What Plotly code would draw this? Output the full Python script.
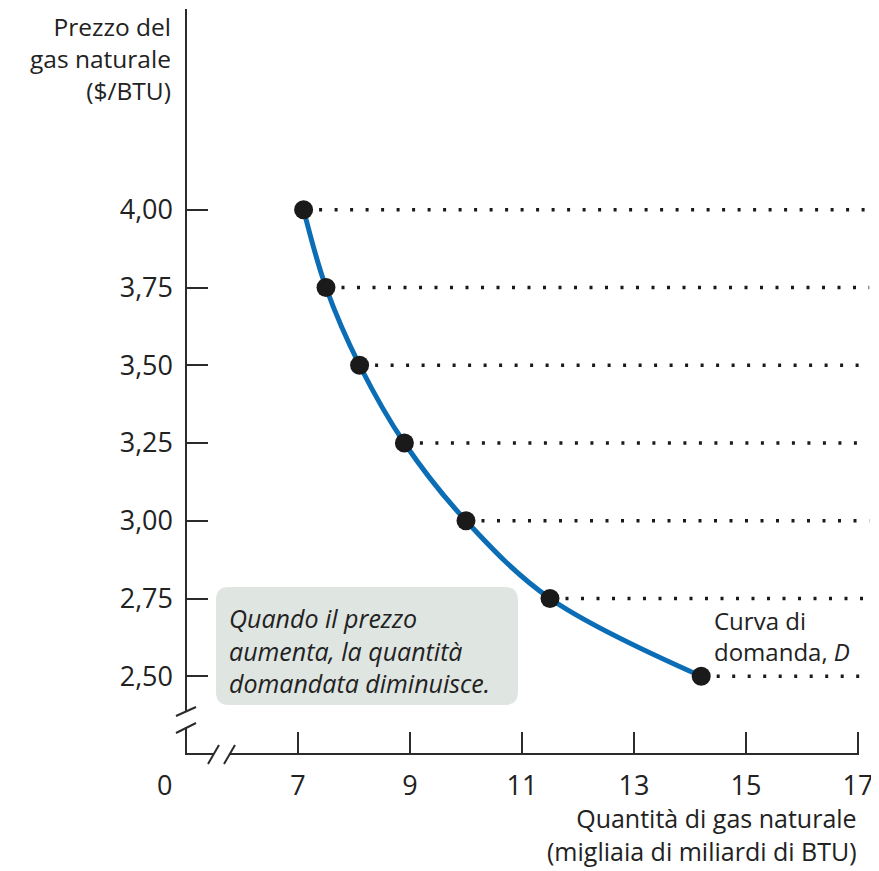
import plotly.graph_objects as go

# ---- data ----
quantity = [7.1, 7.5, 8.1, 8.9, 10.0, 11.5, 14.2]
price = [4.00, 3.75, 3.50, 3.25, 3.00, 2.75, 2.50]
dot_end = [17.4, 17.2, 17.2, 17.2, 17.2, 17.2, 17.2]
x_ticks = [7, 9, 11, 13, 15, 17]
x_ticktext = ["7", "9", "11", "13", "15", "17"]
y_ticks = [2.50, 2.75, 3.00, 3.25, 3.50, 3.75, 4.00]
y_ticktext = ["2,50", "2,75", "3,00", "3,25", "3,50", "3,75", "4,00"]
y_title = ["Prezzo del", "gas naturale", "($/BTU)"]
x_title = ["Quantità di gas naturale", "(migliaia di miliardi di BTU)"]
box_text = ["Quando il prezzo", "aumenta, la quantità", "domandata diminuisce."]
curve_label = ["Curva di", "domanda, <i>D</i>"]

OFF = 8  # page body margin
W, H = 879 - OFF, 871 - OFF
ML, MT = 186 - OFF, 0
PW = W - ML
PH = 754 - OFF - MT
MB = H - MT - PH
FONT = "Open Sans"
AX = "#2b2b2b"
TXT = "#222222"


def px(x):
    return (x - OFF - ML) / PW


def py(y):
    return (MT + PH - (y - OFF)) / PH


fig = go.Figure()

# dotted horizontal guides
for q, p, e in zip(quantity, price, dot_end):
    fig.add_trace(go.Scatter(x=[q, e], y=[p, p], mode="lines",
                             line=dict(color="#1a1a1a", width=3.5, dash="3px,12.5px"),
                             hoverinfo="skip", showlegend=False))

# demand curve
fig.add_trace(go.Scatter(x=quantity, y=price, mode="lines",
                         line=dict(color="#0b6db5", width=5, shape="spline", smoothing=1.0),
                         showlegend=False))
fig.add_trace(go.Scatter(x=quantity, y=price, mode="markers",
                         marker=dict(color="#1a1a1a", size=19),
                         showlegend=False))

shapes = []


def seg(x0, y0, x1, y1, w=2):
    shapes.append(dict(type="line", xref="paper", yref="paper",
                       x0=px(x0), y0=py(y0), x1=px(x1), y1=py(y1),
                       line=dict(color=AX, width=w), layer="above"))


# axes with breaks
seg(186, 9, 186, 712)
seg(186, 727, 186, 755)
seg(185, 754, 213, 754)
seg(229, 754, 859, 754)
seg(176, 716, 196, 707)
seg(176, 733, 196, 723)
seg(208, 764, 219, 745)
seg(224, 764, 235, 745)

# rounded text box
bx0, by0, bx1, by1, r = 216, 587, 518, 705, 13
path = (f"M {px(bx0 + r)},{py(by0)} L {px(bx1 - r)},{py(by0)} "
        f"Q {px(bx1)},{py(by0)} {px(bx1)},{py(by0 + r)} "
        f"L {px(bx1)},{py(by1 - r)} Q {px(bx1)},{py(by1)} {px(bx1 - r)},{py(by1)} "
        f"L {px(bx0 + r)},{py(by1)} Q {px(bx0)},{py(by1)} {px(bx0)},{py(by1 - r)} "
        f"L {px(bx0)},{py(by0 + r)} Q {px(bx0)},{py(by0)} {px(bx0 + r)},{py(by0)} Z")
shapes.append(dict(type="path", xref="paper", yref="paper", path=path,
                   fillcolor="#dfe5e1", line=dict(width=0), layer="below"))


def block(texts, x, y, xanchor, yanchor, size, italic=False):
    t = "<br>".join(texts)
    if italic:
        t = f"<i>{t}</i>"
    return dict(text=t, xref="paper", yref="paper", x=px(x), y=py(y),
                xanchor=xanchor, yanchor=yanchor, align=xanchor if xanchor != "center" else "center",
                showarrow=False, font=dict(family=FONT, size=size, color=TXT))


annotations = [
    block(y_title, 173, 8.5, "right", "top", 24.5),
    block(x_title, 859, 870, "right", "bottom", 25),
    block(box_text, 227, 650, "left", "middle", 25, italic=True),
    block(curve_label, 712, 636, "left", "middle", 24),
    block(["0"], 164, 784, "center", "middle", 27),
]

tf = dict(family=FONT, size=27, color=TXT)
fig.update_layout(
    width=W, height=H,
    margin=dict(l=ML, r=0, t=MT, b=MB),
    paper_bgcolor="white", plot_bgcolor="white",
    shapes=shapes, annotations=annotations,
    font=dict(family=FONT, size=26, color=TXT),
    xaxis=dict(range=[5, 5 + PW / 56], tickvals=x_ticks, ticktext=x_ticktext,
               ticks="inside", ticklen=22, tickwidth=2, tickcolor=AX,
               showgrid=False, zeroline=False, showline=False,
               ticklabelstandoff=13, tickfont=tf),
    yaxis=dict(range=[2.25, 2.25 + PH / 311], tickvals=y_ticks, ticktext=y_ticktext,
               ticks="inside", ticklen=22, tickwidth=2, tickcolor=AX,
               showgrid=False, zeroline=False, showline=False,
               ticklabelstandoff=12, tickfont=tf),
)

fig.write_html("out.html")
